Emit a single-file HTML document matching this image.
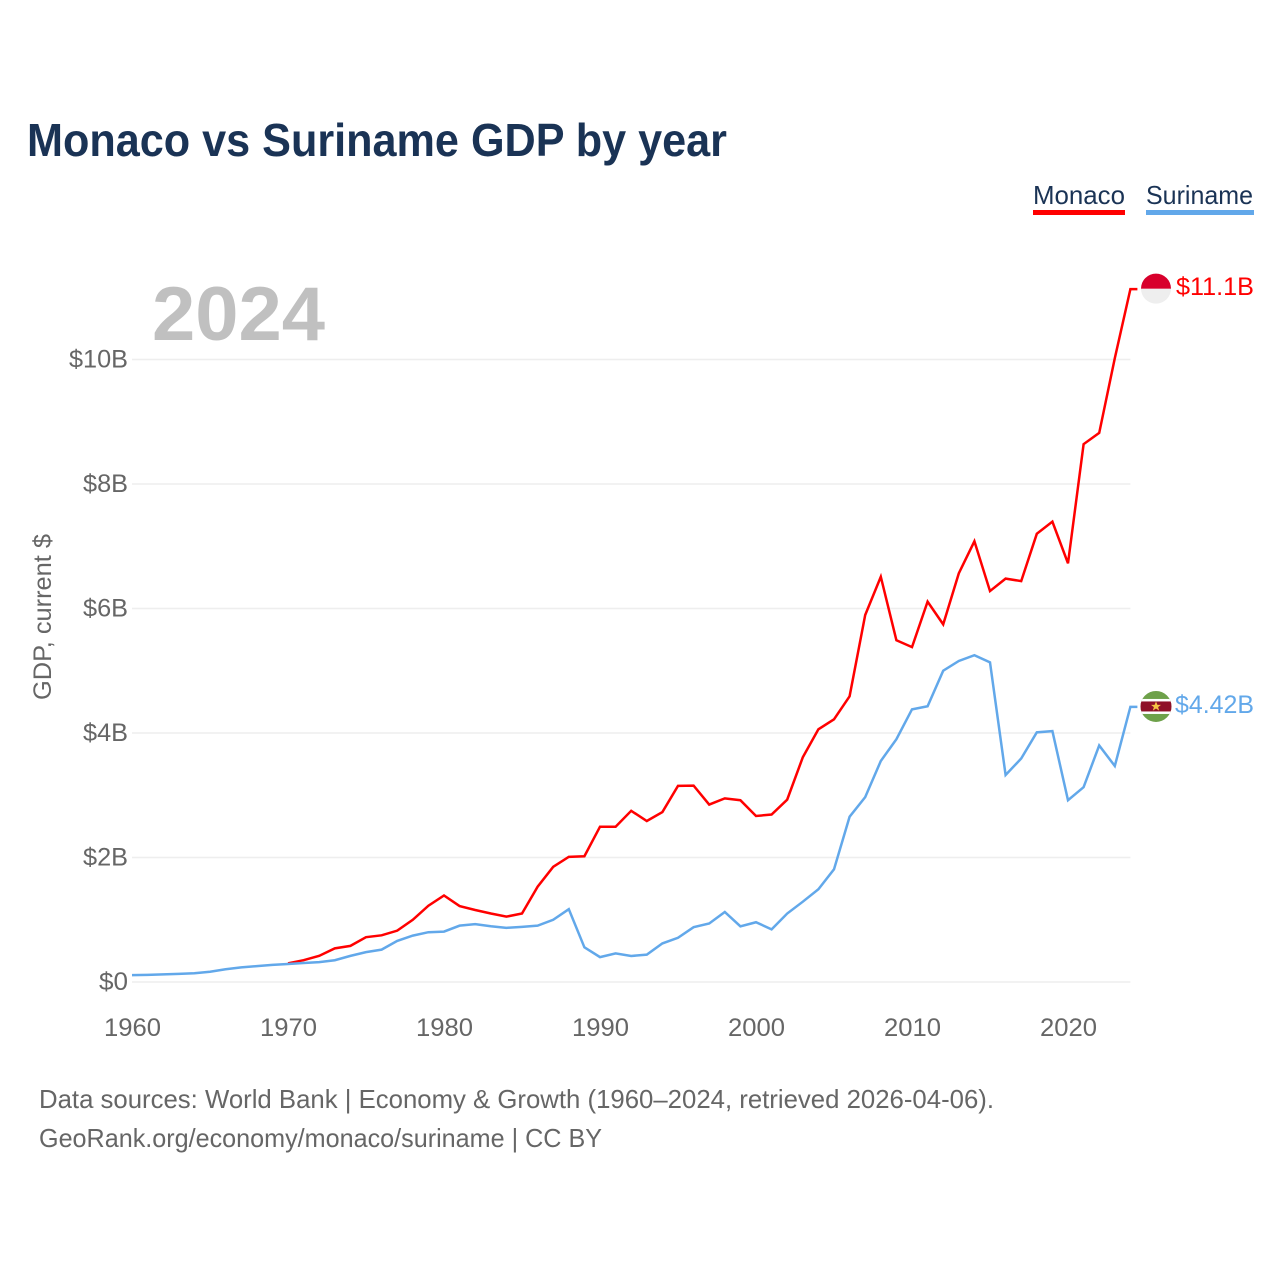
<!DOCTYPE html>
<html lang="en">
<head>
<meta charset="utf-8">
<title>Monaco vs Suriname GDP by year</title>
<style>
html,body{margin:0;padding:0;background:#fff;width:1280px;height:1280px;overflow:hidden}
svg{display:block}
text{font-family:"Liberation Sans",sans-serif}
</style>
</head>
<body>
<svg id="chart" width="1280" height="1280" viewBox="0 0 1280 1280" xmlns="http://www.w3.org/2000/svg">
  <defs>
    <clipPath id="flag-clip-a"><circle cx="0" cy="0" r="15"></circle></clipPath>
    <clipPath id="flag-clip-b"><circle cx="0" cy="0" r="15.5"></circle></clipPath>
  </defs>
  <text x="27" y="156" font-size="46" font-weight="700" fill="#1a3355" textLength="700" lengthAdjust="spacingAndGlyphs">Monaco vs Suriname GDP by year</text>

  <g>
    <g>
      <text x="1033" y="204" font-size="26" fill="#1a3355" textLength="92" lengthAdjust="spacingAndGlyphs">Monaco</text>
      <rect x="1033" y="210" width="92" height="5" fill="#ff0000"></rect>
    </g>
    <g>
      <text x="1146" y="204" font-size="26" fill="#1a3355" textLength="107" lengthAdjust="spacingAndGlyphs">Suriname</text>
      <rect x="1146" y="210" width="108" height="5" fill="#62a8ea"></rect>
    </g>
  </g>

  <text x="152" y="340" font-size="76" font-weight="700" fill="#c0c0c0" textLength="173" lengthAdjust="spacingAndGlyphs">2024</text>

  <g id="grid"></g>
  <g id="y-axis"></g>
  <g id="x-axis"></g>
  <text transform="translate(51,700) rotate(-90)" x="0" y="0" font-size="25" fill="#666666" textLength="166" lengthAdjust="spacingAndGlyphs">GDP, current $</text>
  <g id="series"></g>

  <g id="flag-monaco">
    <g clip-path="url(#flag-clip-a)">
      <rect x="-16" y="-16" width="32" height="32" fill="#eeeeee"></rect>
      <rect x="-16" y="-16" width="32" height="16" fill="#d8002c"></rect>
    </g>
  </g>
  <g id="flag-suriname">
    <g clip-path="url(#flag-clip-b)">
      <rect x="-16" y="-16" width="32" height="32" fill="#6ea14a"></rect>
      <rect x="-16" y="-7.5" width="32" height="15" fill="#ffffff"></rect>
      <rect x="-16" y="-5" width="32" height="10" fill="#8f1028"></rect>
      <polygon points="0,-5 1.4,-1.6 5,-1.6 2.1,0.7 3.2,4.2 0,2.1 -3.2,4.2 -2.1,0.7 -5,-1.6 -1.4,-1.6" fill="#f6c445"></polygon>
    </g>
  </g>
  <text id="label-monaco" x="1176" y="295" font-size="25" fill="#ff0000" textLength="78" lengthAdjust="spacingAndGlyphs">$11.1B</text>
  <text id="label-suriname" x="1175" y="712" font-size="25" fill="#62a8ea" textLength="79" lengthAdjust="spacingAndGlyphs">$4.42B</text>

  <g>
    <text x="39" y="1108" font-size="26" fill="#666666" textLength="955" lengthAdjust="spacingAndGlyphs">Data sources: World Bank | Economy &amp; Growth (1960–2024, retrieved 2026-04-06).</text>
    <text x="39" y="1147" font-size="26" fill="#666666" textLength="563" lengthAdjust="spacingAndGlyphs">GeoRank.org/economy/monaco/suriname | CC BY</text>
  </g>
</svg>
<script>
const years = [1960,1961,1962,1963,1964,1965,1966,1967,1968,1969,1970,1971,1972,1973,1974,1975,1976,1977,1978,1979,1980,1981,1982,1983,1984,1985,1986,1987,1988,1989,1990,1991,1992,1993,1994,1995,1996,1997,1998,1999,2000,2001,2002,2003,2004,2005,2006,2007,2008,2009,2010,2011,2012,2013,2014,2015,2016,2017,2018,2019,2020,2021,2022,2023,2024];
const surinameGdp = [0.11,0.115,0.122,0.13,0.14,0.165,0.205,0.235,0.255,0.275,0.29,0.305,0.32,0.35,0.42,0.48,0.52,0.66,0.745,0.80,0.81,0.905,0.93,0.895,0.87,0.885,0.905,1.0,1.17,0.557,0.40,0.46,0.418,0.44,0.62,0.71,0.88,0.94,1.125,0.894,0.96,0.846,1.10,1.29,1.49,1.81,2.655,2.97,3.55,3.90,4.38,4.43,5.0,5.157,5.25,5.135,3.325,3.59,4.01,4.03,2.92,3.13,3.80,3.47,4.42];
const monacoGdp = [null,null,null,null,null,null,null,null,null,null,0.30,0.35,0.42,0.54,0.58,0.72,0.75,0.825,1.0,1.225,1.39,1.22,1.157,1.10,1.05,1.10,1.53,1.85,2.01,2.02,2.495,2.495,2.75,2.586,2.73,3.15,3.155,2.85,2.95,2.92,2.667,2.69,2.93,3.61,4.06,4.22,4.59,5.895,6.51,5.49,5.38,6.11,5.745,6.565,7.08,6.28,6.48,6.44,7.2,7.395,6.725,8.64,8.82,10.02,11.13];
const yTickValues = [0,2,4,6,8,10];
const yTickLabels = ["$0","$2B","$4B","$6B","$8B","$10B"];
const xTickValues = [1960,1970,1980,1990,2000,2010,2020];
const xTickLabels = ["1960","1970","1980","1990","2000","2010","2020"];

const SVG_NS = "http://www.w3.org/2000/svg";
const xScale = function (year) { return 132 + (year - 1960) * 15.6; };
const yScale = function (value) { return 982 - value * 62.25; };
const labelWidths = { 2: 29, 3: 45, 4: 59 };

const gridGroup = document.getElementById("grid");
const yAxisGroup = document.getElementById("y-axis");
const xAxisGroup = document.getElementById("x-axis");
const seriesGroup = document.getElementById("series");

yTickValues.forEach(function (value, i) {
  const line = document.createElementNS(SVG_NS, "line");
  
  
  line.setAttribute("x1", xScale(1960));
  line.setAttribute("x2", xScale(2024));
  line.setAttribute("y1", yScale(value));
  line.setAttribute("y2", yScale(value));
  line.setAttribute("stroke", "#eeeeee");
  line.setAttribute("stroke-width", "1.5");
  gridGroup.appendChild(line);

  const label = document.createElementNS(SVG_NS, "text");
  
  
  label.setAttribute("x", 128);
  label.setAttribute("y", yScale(value) + 8);
  label.setAttribute("text-anchor", "end");
  label.setAttribute("font-size", "25");
  label.setAttribute("fill", "#666666");
  label.setAttribute("textLength", labelWidths[yTickLabels[i].length]);
  label.setAttribute("lengthAdjust", "spacingAndGlyphs");
  label.textContent = yTickLabels[i];
  yAxisGroup.appendChild(label);
});

xTickValues.forEach(function (year, i) {
  const label = document.createElementNS(SVG_NS, "text");
  
  
  label.setAttribute("x", xScale(year) + 0.5);
  label.setAttribute("y", 1036);
  label.setAttribute("text-anchor", "middle");
  label.setAttribute("font-size", "25");
  label.setAttribute("fill", "#666666");
  label.setAttribute("textLength", 57);
  label.setAttribute("lengthAdjust", "spacingAndGlyphs");
  label.textContent = xTickLabels[i];
  xAxisGroup.appendChild(label);
});

function buildPath(values) {
  let d = "";
  let lastX = 0;
  let lastY = 0;
  values.forEach(function (value, i) {
    if (value === null) { return; }
    lastX = xScale(years[i]);
    lastY = yScale(value);
    d += (d === "" ? "M" : "L") + lastX.toFixed(2) + " " + lastY.toFixed(2) + " ";
  });
  d += "L" + (lastX + 7).toFixed(2) + " " + lastY.toFixed(2);
  return d;
}

const surinameLine = document.createElementNS(SVG_NS, "path");


surinameLine.setAttribute("d", buildPath(surinameGdp));
surinameLine.setAttribute("fill", "none");
surinameLine.setAttribute("stroke", "#62a8ea");
surinameLine.setAttribute("stroke-width", "2.5");
seriesGroup.appendChild(surinameLine);

const monacoLine = document.createElementNS(SVG_NS, "path");


monacoLine.setAttribute("d", buildPath(monacoGdp));
monacoLine.setAttribute("fill", "none");
monacoLine.setAttribute("stroke", "#ff0000");
monacoLine.setAttribute("stroke-width", "2.5");
seriesGroup.insertBefore(monacoLine, surinameLine);

const monacoEndY = yScale(monacoGdp[monacoGdp.length - 1]);
const surinameEndY = yScale(surinameGdp[surinameGdp.length - 1]);
document.getElementById("flag-monaco").setAttribute("transform", "translate(1156," + (monacoEndY - 0.5) + ")");
document.getElementById("flag-suriname").setAttribute("transform", "translate(1156," + (surinameEndY - 0.4) + ")");
document.getElementById("label-monaco").setAttribute("y", monacoEndY + 6);
document.getElementById("label-suriname").setAttribute("y", surinameEndY + 6);
</script>
</body>
</html>
